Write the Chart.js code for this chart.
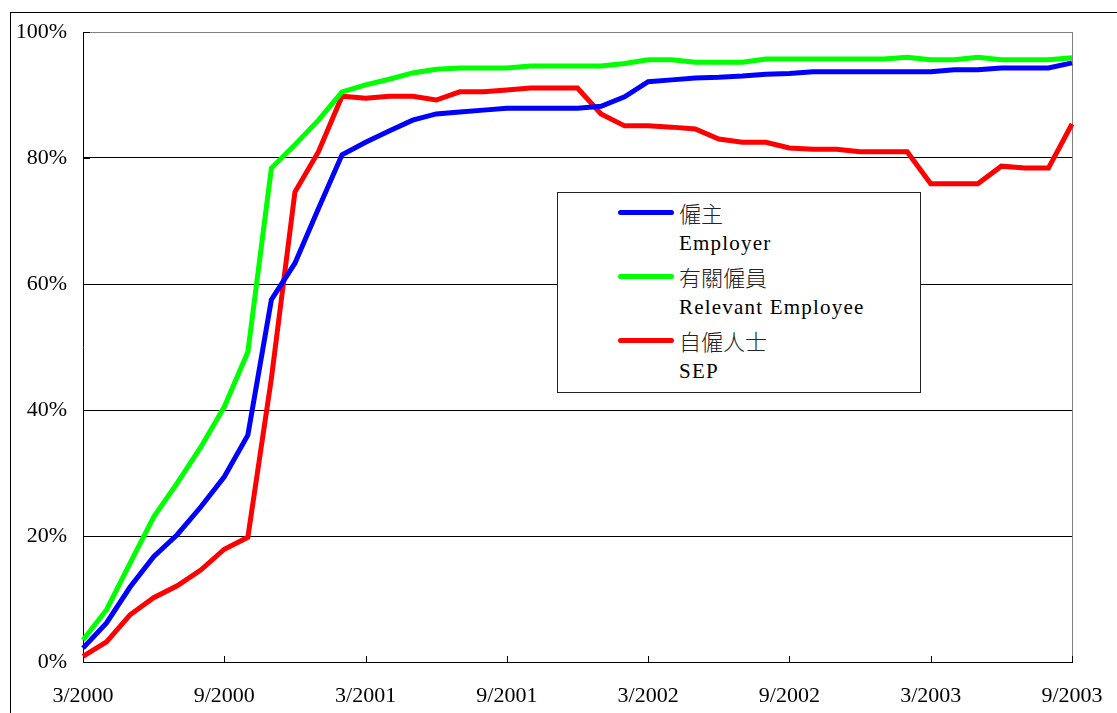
<!DOCTYPE html>
<html>
<head>
<meta charset="utf-8">
<script src="https://cdn.jsdelivr.net/npm/chart.js@4.4.0/dist/chart.umd.min.js"></script>
<style>
  html, body { margin:0; padding:0; background:#fff; width:1117px; height:713px; overflow:hidden; }
  #frame { position:absolute; left:10px; top:12px; width:1200px; height:800px; border-left:1px solid #000; border-top:1px solid #000; }
  #wrap { position:absolute; left:0; top:0; width:1117px; height:713px; }
  #legend { position:absolute; left:557px; top:192px; width:362px; height:199px; border:1px solid #222; background:#fff;
            font-family:"Liberation Serif","Noto Sans CJK TC",serif; font-size:21px; color:#000; }
  .swatch { position:absolute; left:60px; width:56px; height:5px; border-radius:3px; }
  .t1 { position:absolute; left:121px; line-height:24px; white-space:nowrap; font-family:"Noto Sans CJK TC",sans-serif; font-size:22px; font-weight:300; color:#222; }
  .t2 { position:absolute; left:121px; line-height:22px; white-space:nowrap; letter-spacing:1.2px; }
</style>
</head>
<body>
<div id="frame"></div>
<div id="wrap"><canvas id="c" width="1117" height="713"></canvas></div>
<div id="legend"></div>
<script>
const months = ["3/2000","4/2000","5/2000","6/2000","7/2000","8/2000","9/2000","10/2000","11/2000","12/2000",
  "1/2001","2/2001","3/2001","4/2001","5/2001","6/2001","7/2001","8/2001","9/2001","10/2001","11/2001","12/2001",
  "1/2002","2/2002","3/2002","4/2002","5/2002","6/2002","7/2002","8/2002","9/2002","10/2002","11/2002","12/2002",
  "1/2003","2/2003","3/2003","4/2003","5/2003","6/2003","7/2003","8/2003","9/2003"];
const employer = [2.2,6.2,11.9,16.7,20.2,24.6,29.4,36.0,57.5,63.3,
  72.0,80.5,82.5,84.3,86.0,87.0,87.3,87.6,87.9,87.9,
  87.9,87.9,88.2,89.7,92.1,92.4,92.7,92.8,93.0,93.3,
  93.4,93.7,93.7,93.7,93.7,93.7,93.7,94.0,94.0,94.3,
  94.3,94.3,95.1];
const employee = [3.5,8.3,15.7,23.0,28.4,34.1,40.5,49.2,78.4,82.1,
  86.0,90.5,91.6,92.5,93.5,94.1,94.3,94.3,94.3,94.6,
  94.6,94.6,94.6,95.0,95.6,95.6,95.2,95.2,95.2,95.7,
  95.7,95.7,95.7,95.7,95.7,96.0,95.6,95.6,96.0,95.6,
  95.6,95.6,95.9];
const sep = [0.9,3.2,7.5,10.2,12.1,14.6,17.9,19.8,45.0,74.6,
  81.0,89.8,89.5,89.8,89.8,89.2,90.5,90.5,90.8,91.1,
  91.1,91.1,87.0,85.1,85.1,84.9,84.6,83.0,82.5,82.5,
  81.6,81.4,81.4,81.0,81.0,81.0,75.9,75.9,75.9,78.7,
  78.4,78.4,85.4];
const seriesZh = ["僱主","有關僱員","自僱人士"];
const seriesEn = ["Employer","Relevant Employee","SEP"];
const seriesColors = ["#0000FF","#00FF00","#FF0000"];
const yTicks = [0,20,40,60,80,100];
const labelEvery = 6;

const serif = "'Liberation Serif', 'Times New Roman', serif";

const frameLines = {
  id: 'frameLines',
  beforeDatasetsDraw(chart) {
    const {ctx, chartArea:a, scales:{x, y}} = chart;
    ctx.save();
    ctx.lineWidth = 1;
    ctx.strokeStyle = '#808080';
    ctx.beginPath();
    ctx.moveTo(Math.round(a.right) + 0.5, a.top);
    ctx.lineTo(Math.round(a.right) + 0.5, a.bottom);
    ctx.stroke();
    ctx.strokeStyle = '#000';
    for (let i = 0; i < months.length; i += labelEvery) {
      const px = Math.round(x.getPixelForValue(i)) + 0.5;
      ctx.beginPath();
      ctx.moveTo(px, a.bottom);
      ctx.lineTo(px, a.bottom - 6);
      ctx.stroke();
    }
    yTicks.forEach(v => {
      const py = Math.round(y.getPixelForValue(v)) + 0.5;
      ctx.beginPath();
      ctx.moveTo(a.left, py);
      ctx.lineTo(a.left + 7, py);
      ctx.stroke();
    });
    ctx.restore();
  }
};

const datasets = [employer, employee, sep].map((d, i) => ({
  label: seriesEn[i],
  data: d,
  borderColor: seriesColors[i],
  backgroundColor: seriesColors[i],
  borderWidth: 5,
  pointRadius: 0,
  pointHoverRadius: 0,
  tension: 0,
  fill: false,
  clip: 6
}));

new Chart(document.getElementById('c'), {
  type: 'line',
  data: { labels: months, datasets },
  options: {
    responsive: false,
    animation: false,
    events: [],
    layout: { padding: { left: 0, top: 32, right: 45, bottom: 0 } },
    plugins: { legend: { display: false }, tooltip: { enabled: false } },
    scales: {
      x: {
        type: 'category',
        offset: false,
        grid: { display: false },
        border: { display: true, color: '#000', width: 1 },
        ticks: {
          autoSkip: false, maxRotation: 0, minRotation: 0,
          color: '#000', padding: 13,
          font: { family: serif, size: 22 }
        },
        afterBuildTicks(scale) {
          scale.ticks = scale.ticks.filter(t => t.value % labelEvery === 0);
        },
        afterFit(scale) { scale.height = 51; }
      },
      y: {
        min: 0, max: 100,
        afterBuildTicks(scale) { scale.ticks = yTicks.map(v => ({ value: v })); },
        ticks: {
          color: '#000', padding: 16,
          font: { family: serif, size: 22 },
          callback: v => v + '%'
        },
        grid: {
          drawTicks: false,
          lineWidth: 1,
          color: ctx => (ctx.tick && ctx.tick.value === 100) ? '#808080' : '#000'
        },
        border: { display: true, color: '#000', width: 1 },
        afterFit(scale) { scale.width = 83; }
      }
    }
  },
  plugins: [frameLines]
});

const lg = document.getElementById('legend');
seriesZh.forEach((zh, i) => {
  const top = 20 + i * 64;
  const sw = document.createElement('div');
  sw.className = 'swatch';
  sw.style.top = (top - 3) + 'px';
  sw.style.background = seriesColors[i];
  lg.appendChild(sw);
  const t1 = document.createElement('div');
  t1.className = 't1';
  t1.style.top = (top - 13) + 'px';
  t1.textContent = zh;
  lg.appendChild(t1);
  const t2 = document.createElement('div');
  t2.className = 't2';
  t2.style.top = (top + 19) + 'px';
  t2.textContent = seriesEn[i];
  lg.appendChild(t2);
});
</script>
</body>
</html>
